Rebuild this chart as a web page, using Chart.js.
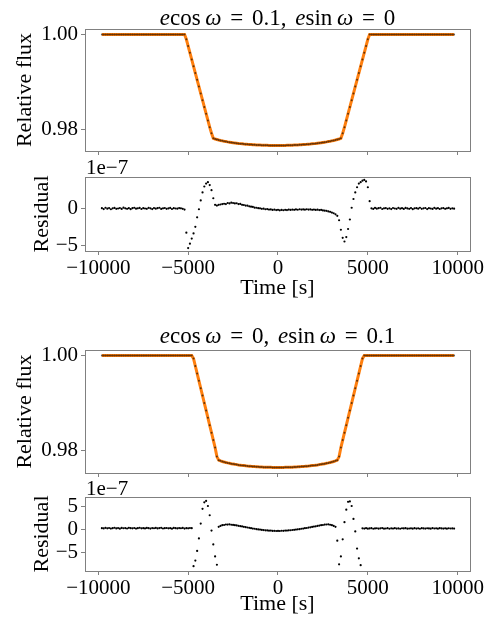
<!DOCTYPE html>
<html>
<head>
<meta charset="utf-8">
<script src="https://cdn.jsdelivr.net/npm/chart.js@4.4.0/dist/chart.umd.min.js"></script>
<style>
  body { margin: 0; background: #fff; width: 497px; height: 624px; overflow: hidden; position: relative; font-family: "Liberation Serif", "Times New Roman", serif; }
  canvas { position: absolute; left: 0; }
  .ttl { position: absolute; left: 85px; width: 385px; text-align: center; font-size: 23px; word-spacing: 3px; line-height: 26px; white-space: nowrap; color: #000; }
  .off { position: absolute; left: 86px; font-size: 21px; line-height: 26px; white-space: nowrap; color: #000; }
</style>
</head>
<body>
<canvas id="flux1" width="497" height="160" style="top:0px"></canvas>
<canvas id="resid1" width="497" height="141" style="top:160px"></canvas>
<canvas id="flux2" width="497" height="161" style="top:321px"></canvas>
<canvas id="resid2" width="497" height="137" style="top:480px"></canvas>

<div class="ttl" style="top:5px"><i>e</i>cos&#8201;<i>ω</i> = 0.1, <i>e</i>sin&#8201;<i>ω</i> = 0</div>
<div class="off" style="top:154px">1e&#8722;7</div>
<div class="ttl" style="top:323px"><i>e</i>cos&#8201;<i>ω</i> = 0, <i>e</i>sin&#8201;<i>ω</i> = 0.1</div>
<div class="off" style="top:475px">1e&#8722;7</div>

<script>
// sample times [s]
const time = [
  -9800, -9700, -9600, -9500, -9400, -9300, -9200, -9100, -9000, -8900,
  -8800, -8700, -8600, -8500, -8400, -8300, -8200, -8100, -8000, -7900,
  -7800, -7700, -7600, -7500, -7400, -7300, -7200, -7100, -7000, -6900,
  -6800, -6700, -6600, -6500, -6400, -6300, -6200, -6100, -6000, -5900,
  -5800, -5700, -5600, -5500, -5400, -5300, -5200, -5100, -5000, -4900,
  -4800, -4700, -4600, -4500, -4400, -4300, -4200, -4100, -4000, -3900,
  -3800, -3700, -3600, -3500, -3400, -3300, -3200, -3100, -3000, -2900,
  -2800, -2700, -2600, -2500, -2400, -2300, -2200, -2100, -2000, -1900,
  -1800, -1700, -1600, -1500, -1400, -1300, -1200, -1100, -1000, -900,
  -800, -700, -600, -500, -400, -300, -200, -100, 0, 100,
  200, 300, 400, 500, 600, 700, 800, 900, 1000, 1100,
  1200, 1300, 1400, 1500, 1600, 1700, 1800, 1900, 2000, 2100,
  2200, 2300, 2400, 2500, 2600, 2700, 2800, 2900, 3000, 3100,
  3200, 3300, 3400, 3500, 3600, 3700, 3800, 3900, 4000, 4100,
  4200, 4300, 4400, 4500, 4600, 4700, 4800, 4900, 5000, 5100,
  5200, 5300, 5400, 5500, 5600, 5700, 5800, 5900, 6000, 6100,
  6200, 6300, 6400, 6500, 6600, 6700, 6800, 6900, 7000, 7100,
  7200, 7300, 7400, 7500, 7600, 7700, 7800, 7900, 8000, 8100,
  8200, 8300, 8400, 8500, 8600, 8700, 8800, 8900, 9000, 9100,
  9200, 9300, 9400, 9500, 9600, 9700, 9800
];

// e cos w = 0.1, e sin w = 0
const flux1 = [
  1, 1, 1, 1, 1, 1, 1, 1, 1, 1,
  1, 1, 1, 1, 1, 1, 1, 1, 1, 1,
  1, 1, 1, 1, 1, 1, 1, 1, 1, 1,
  1, 1, 1, 1, 1, 1, 1, 1, 1, 1,
  1, 1, 1, 1, 1, 1, 1, 0.99900, 0.99757, 0.99614,
  0.99470, 0.99327, 0.99184, 0.99041, 0.98898, 0.98754, 0.98611, 0.98468, 0.98325, 0.98182,
  0.98039, 0.97910, 0.97804, 0.97790, 0.97779, 0.97768, 0.97758, 0.97750, 0.97742, 0.97735,
  0.97728, 0.97722, 0.97716, 0.97710, 0.97705, 0.97700, 0.97695, 0.97691, 0.97687, 0.97683,
  0.97680, 0.97676, 0.97673, 0.97671, 0.97668, 0.97666, 0.97664, 0.97662, 0.97660, 0.97658,
  0.97657, 0.97656, 0.97655, 0.97654, 0.97653, 0.97653, 0.97652, 0.97652, 0.97652, 0.97652,
  0.97653, 0.97653, 0.97654, 0.97655, 0.97656, 0.97657, 0.97658, 0.97660, 0.97662, 0.97664,
  0.97666, 0.97668, 0.97671, 0.97673, 0.97676, 0.97680, 0.97683, 0.97687, 0.97691, 0.97695,
  0.97700, 0.97705, 0.97710, 0.97716, 0.97722, 0.97728, 0.97735, 0.97742, 0.97750, 0.97758,
  0.97768, 0.97779, 0.97790, 0.97804, 0.97910, 0.98039, 0.98182, 0.98325, 0.98468, 0.98611,
  0.98754, 0.98898, 0.99041, 0.99184, 0.99327, 0.99470, 0.99614, 0.99757, 0.99900, 1,
  1, 1, 1, 1, 1, 1, 1, 1, 1, 1,
  1, 1, 1, 1, 1, 1, 1, 1, 1, 1,
  1, 1, 1, 1, 1, 1, 1, 1, 1, 1,
  1, 1, 1, 1, 1, 1, 1, 1, 1, 1,
  1, 1, 1, 1, 1, 1, 1
];

// residual, units of 1e-7
const resid1 = [
  0.05, -0.08, 0.1, -0.02, 0.06, -0.1, 0.03, 0.08, -0.05, 0.0,
  0.07, -0.06, 0.12, 0.02, -0.04, 0.05, -0.09, 0.04, 0.1, -0.03,
  0.02, 0.08, -0.07, 0.05, 0.0, -0.05, 0.09, 0.03, -0.08, 0.06,
  -0.02, 0.04, 0.1, -0.06, 0.02, 0.07, -0.04, 0.01, 0.08, -0.07,
  0.05, 0.0, -0.03, 0.06, 0.02, -0.05, -0.15, -3.3, -5.4, -4.8,
  -4.1, -3.4, -2.5, -1.2, -0.1, 1.1, 2.2, 3.0, 3.4, 3.6,
  3.2, 2.5, 1.4, 0.5, 0.4, 0.5, 0.55, 0.6, 0.65, 0.6,
  0.75, 0.7, 0.8, 0.75, 0.7, 0.72, 0.6, 0.62, 0.5, 0.48,
  0.4, 0.38, 0.3, 0.25, 0.22, 0.12, 0.1, 0.05, 0.02, -0.05,
  -0.02, -0.1, -0.08, -0.15, -0.12, -0.2, -0.15, -0.22, -0.18, -0.25,
  -0.2, -0.24, -0.18, -0.22, -0.15, -0.2, -0.14, -0.18, -0.12, -0.17,
  -0.1, -0.15, -0.12, -0.16, -0.1, -0.14, -0.12, -0.18, -0.14, -0.2,
  -0.16, -0.22, -0.2, -0.26, -0.3, -0.32, -0.4, -0.45, -0.55, -0.65,
  -0.8, -1.0, -1.6, -2.9, -4.0, -4.5, -3.9, -2.8, -1.5, 0.1,
  1.3, 2.2, 2.9, 3.4, 3.6, 3.8, 3.9, 3.7, 2.9, 1.0,
  0.02, -0.06, 0.08, -0.03, 0.05, 0.1, -0.07, 0.02, 0.06, -0.04,
  0.03, -0.08, 0.07, 0.0, -0.05, 0.09, -0.02, 0.04, -0.06, 0.08,
  0.01, -0.04, 0.06, -0.09, 0.03, 0.05, -0.03, 0.1, -0.05, 0.02,
  0.07, -0.08, 0.04, 0.0, -0.06, 0.09, -0.02, 0.05, -0.07, 0.03,
  0.06, -0.04, 0.02, 0.08, -0.05, 0.03, -0.02
];

// e cos w = 0, e sin w = 0.1
const flux2 = [
  1, 1, 1, 1, 1, 1, 1, 1, 1, 1,
  1, 1, 1, 1, 1, 1, 1, 1, 1, 1,
  1, 1, 1, 1, 1, 1, 1, 1, 1, 1,
  1, 1, 1, 1, 1, 1, 1, 1, 1, 1,
  1, 1, 1, 1, 1, 1, 1, 1, 1, 1,
  1, 0.99938, 0.99782, 0.99626, 0.99471, 0.99315, 0.99160, 0.99004, 0.98848, 0.98693,
  0.98537, 0.98381, 0.98226, 0.98070, 0.97880, 0.97805, 0.97790, 0.97777, 0.97766, 0.97756,
  0.97747, 0.97739, 0.97731, 0.97724, 0.97717, 0.97711, 0.97705, 0.97700, 0.97695, 0.97691,
  0.97686, 0.97682, 0.97679, 0.97675, 0.97672, 0.97669, 0.97667, 0.97664, 0.97662, 0.97660,
  0.97658, 0.97657, 0.97656, 0.97654, 0.97654, 0.97653, 0.97652, 0.97652, 0.97652, 0.97652,
  0.97652, 0.97653, 0.97654, 0.97654, 0.97656, 0.97657, 0.97658, 0.97660, 0.97662, 0.97664,
  0.97667, 0.97669, 0.97672, 0.97675, 0.97679, 0.97682, 0.97686, 0.97691, 0.97695, 0.97700,
  0.97705, 0.97711, 0.97717, 0.97724, 0.97731, 0.97739, 0.97747, 0.97756, 0.97766, 0.97777,
  0.97790, 0.97805, 0.97880, 0.98070, 0.98226, 0.98381, 0.98537, 0.98693, 0.98848, 0.99004,
  0.99160, 0.99315, 0.99471, 0.99626, 0.99782, 0.99938, 1, 1, 1, 1,
  1, 1, 1, 1, 1, 1, 1, 1, 1, 1,
  1, 1, 1, 1, 1, 1, 1, 1, 1, 1,
  1, 1, 1, 1, 1, 1, 1, 1, 1, 1,
  1, 1, 1, 1, 1, 1, 1, 1, 1, 1,
  1, 1, 1, 1, 1, 1, 1
];

const resid2 = [
  0.22, 0.15, 0.28, 0.18, 0.25, 0.12, 0.2, 0.3, 0.16, 0.24,
  0.1, 0.26, 0.19, 0.23, 0.14, 0.29, 0.2, 0.17, 0.25, 0.13,
  0.22, 0.3, 0.18, 0.21, 0.15, 0.27, 0.2, 0.12, 0.24, 0.19,
  0.26, 0.16, 0.23, 0.28, 0.14, 0.2, 0.25, 0.18, 0.22, 0.11,
  0.27, 0.2, 0.15, 0.24, 0.19, 0.26, 0.13, 0.22, 0.18, 0.25,
  0.2, -8.0, -6.8, -4.7, -2.0, 1.2, 4.4, 5.8, 6.1, 5.0,
  3.0, -0.3, -3.3, -5.9, -7.7, 0.5, 0.7, 0.85, 0.9, 1.0,
  0.98, 1.05, 0.95, 0.92, 0.85, 0.8, 0.72, 0.65, 0.58, 0.5,
  0.42, 0.36, 0.28, 0.2, 0.12, 0.08, 0.0, -0.05, -0.1, -0.16,
  -0.2, -0.26, -0.28, -0.34, -0.32, -0.38, -0.36, -0.4, -0.38, -0.4,
  -0.35, -0.36, -0.3, -0.32, -0.25, -0.24, -0.18, -0.14, -0.1, -0.04,
  0.0, 0.08, 0.12, 0.2, 0.25, 0.34, 0.4, 0.48, 0.55, 0.62,
  0.7, 0.78, 0.85, 0.9, 0.98, 1.0, 1.05, 0.95, 0.85, 0.7,
  0.5, -2.5, -7.6, -5.9, -2.2, 1.5, 4.2, 5.9, 6.0, 5.0,
  2.2, -0.5, -4.2, -6.3, -7.8, 0.18, 0.12, 0.2, 0.1, 0.16,
  0.22, 0.08, 0.15, 0.19, 0.11, 0.17, 0.24, 0.1, 0.14, 0.2,
  0.09, 0.18, 0.13, 0.21, 0.12, 0.16, 0.08, 0.19, 0.15, 0.22,
  0.11, 0.14, 0.18, 0.1, 0.2, 0.13, 0.17, 0.09, 0.21, 0.15,
  0.12, 0.19, 0.16, 0.1, 0.23, 0.14, 0.18, 0.11, 0.2, 0.15,
  0.12, 0.17, 0.1, 0.19, 0.14, 0.16, 0.12
];

const xTicks = [-10000, -5000, 0, 5000, 10000];
const fluxTicks = [0.98, 1.00];
const resid1Ticks = [-5, 0];
const resid2Ticks = [-5, 0, 5];

const serif = '"Liberation Serif", "Times New Roman", serif';
const axisGray = '#808080';
const minus = v => (v < 0 ? '\u2212' + Math.abs(v) : String(v));
const pts = ys => time.map((t, i) => ({ x: t, y: ys[i] }));

// box round the plot area, like matplotlib spines
const frame = {
  id: 'frame',
  afterDatasetsDraw(chart) {
    const { ctx, chartArea: a } = chart;
    ctx.save();
    ctx.strokeStyle = axisGray;
    ctx.lineWidth = 1;
    ctx.strokeRect(Math.round(a.left) + 0.5, Math.round(a.top) + 0.5,
      Math.round(a.right - a.left), Math.round(a.bottom - a.top));
    ctx.restore();
  }
};

function panel(id, o) {
  const datasets = [{
    data: pts(o.values),
    pointRadius: o.dotRadius,
    pointBackgroundColor: o.dotColor,
    pointBorderWidth: 0,
    showLine: false,
    order: 0
  }];
  if (o.line) {
    datasets.push({
      data: pts(o.values),
      showLine: true,
      pointRadius: 0,
      borderColor: '#ff7f0e',
      borderWidth: 3,
      order: 1
    });
  }

  new Chart(document.getElementById(id), {
    type: 'scatter',
    data: { datasets },
    options: {
      responsive: false,
      animation: false,
      devicePixelRatio: 1,
      layout: { padding: { top: o.padTop, right: 27, bottom: 0, left: 0 } },
      plugins: { legend: { display: false }, tooltip: { enabled: false } },
      scales: {
        x: {
          type: 'linear',
          min: -10740,
          max: 10685,
          afterBuildTicks: ax => { ax.ticks = xTicks.map(value => ({ value })); },
          afterFit: ax => { ax.height = o.xHeight; },
          grid: { drawOnChartArea: false, drawTicks: true, tickLength: 4, color: axisGray },
          border: { display: false },
          ticks: {
            display: o.xLabels,
            autoSkip: false,
            maxRotation: 0,
            padding: 1,
            color: '#000',
            font: { family: serif, size: 21 },
            callback: v => minus(v)
          },
          title: {
            display: o.xLabels,
            text: 'Time [s]',
            color: '#000',
            font: { family: serif, size: 22 },
            padding: { top: 0, bottom: 0 }
          }
        },
        y: {
          min: o.yMin,
          max: o.yMax,
          afterBuildTicks: ax => { ax.ticks = o.yTicks.map(value => ({ value })); },
          afterFit: ax => { ax.width = 85; ax.paddingTop = 0; ax.paddingBottom = 0; },
          grid: { drawOnChartArea: false, drawTicks: true, tickLength: 4, color: axisGray },
          border: { display: false },
          ticks: {
            padding: 3,
            color: '#000',
            font: { family: serif, size: 21 },
            callback: o.yFormat
          },
          title: {
            display: true,
            text: o.yTitle,
            color: '#000',
            font: { family: serif, size: 22 },
            padding: { top: o.yTitlePad, bottom: 0 }
          }
        }
      }
    },
    plugins: [frame]
  });
}

panel('flux1', {
  values: flux1, line: true, dotRadius: 1, dotColor: 'rgba(0,0,0,0.6)',
  padTop: 29, xHeight: 9, xLabels: false,
  yMin: 0.97535, yMax: 1.00118, yTicks: fluxTicks, yFormat: v => v.toFixed(2),
  yTitle: 'Relative flux', yTitlePad: 12
});
panel('resid1', {
  values: resid1, line: false, dotRadius: 1.1, dotColor: '#000',
  padTop: 17, xHeight: 50, xLabels: true,
  yMin: -5.8, yMax: 4.3, yTicks: resid1Ticks, yFormat: v => minus(v),
  yTitle: 'Residual', yTitlePad: 29
});
panel('flux2', {
  values: flux2, line: true, dotRadius: 1, dotColor: 'rgba(0,0,0,0.6)',
  padTop: 29, xHeight: 9, xLabels: false,
  yMin: 0.97535, yMax: 1.00118, yTicks: fluxTicks, yFormat: v => v.toFixed(2),
  yTitle: 'Relative flux', yTitlePad: 12
});
panel('resid2', {
  values: resid2, line: false, dotRadius: 1.1, dotColor: '#000',
  padTop: 17, xHeight: 46, xLabels: true,
  yMin: -9.05, yMax: 6.95, yTicks: resid2Ticks, yFormat: v => minus(v),
  yTitle: 'Residual', yTitlePad: 29
});
</script>
</body>
</html>
